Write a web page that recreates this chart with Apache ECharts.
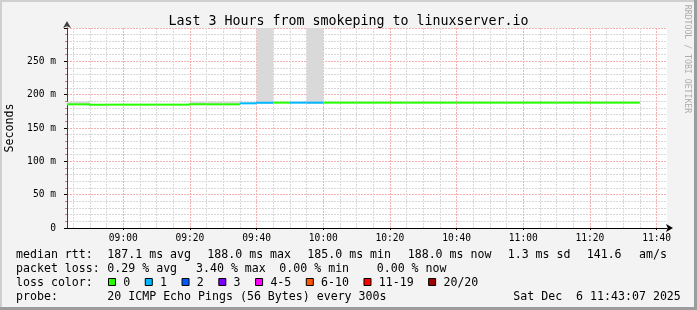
<!DOCTYPE html>
<html>
<head>
<meta charset="utf-8">
<script src="https://cdn.jsdelivr.net/npm/echarts@6/dist/echarts.min.js"></script>
<style>
html,body{margin:0;padding:0;background:#f3f3f3;}
#chart{width:697px;height:310px;}
</style>
</head>
<body>
<div id="chart"></div>
<script>
// ---------------- data ----------------
const titleText = 'Last 3 Hours from smokeping to linuxserver.io';
const endTime = '11:43:07';
const rangeMinutes = 180;
const stepMinutes = 5;

const bucketStarts = ['08:40','08:45','08:50','08:55','09:00','09:05','09:10','09:15','09:20','09:25','09:30','09:35',
  '09:40','09:45','09:50','09:55','10:00','10:05','10:10','10:15','10:20','10:25','10:30','10:35','10:40','10:45',
  '10:50','10:55','11:00','11:05','11:10','11:15','11:20','11:25','11:30'];
// median rtt in ms
const medianRtt = [185.5,185.5,185.0,185.0,185.0,185.0,185.0,185.0,185.5,185.5,185.5,187.0,
  188.0,188.0,188.0,188.0,188.0,188.0,188.0,188.0,188.0,188.0,188.0,188.0,188.0,188.0,
  188.0,188.0,188.0,188.0,188.0,188.0,188.0,188.0,188.0];
// lost pings out of 20
const lossCount = [0,0,0,0,0,0,0,0,0,0,0,1,
  1,0,1,1,0,0,0,0,0,0,0,0,0,0,
  0,0,0,0,0,0,0,0,0];
// smoke (ping spread) in ms
const smokeLow = [184.5,184.5,184.8,184.8,184.8,184.8,184.8,184.8,184.5,184.5,184.5,186.5,
  186.5,187.5,187.5,186.0,187.5,187.5,187.5,187.5,187.5,187.5,187.5,187.5,187.5,187.5,
  187.5,187.5,187.5,187.5,187.5,187.5,187.5,187.5,187.5];
const smokeHigh = [189.5,189.5,186.0,186.0,186.0,186.0,186.0,186.0,189.5,189.5,189.5,188.0,
  320,188.5,188.5,320,188.5,188.5,188.5,188.5,188.5,188.5,188.5,188.5,188.5,188.5,
  188.5,188.5,188.5,188.5,188.5,188.5,188.5,188.5,188.5];

const xTickLabels = ['09:00','09:20','09:40','10:00','10:20','10:40','11:00','11:20','11:40'];
const yMaxMs = 300;
const yIntervalMs = 50;

const lossLabels = ['0','1','2','3','4-5','6-10','11-19','20/20'];
const lossUpper = [0,1,2,3,5,10,19,20];
const lossColors = ['#26ff00','#00b8ff','#0059ff','#7e00ff','#ff00ff','#ff5500','#ff0000','#a10000'];

const rttStats = ['187.1 ms avg','188.0 ms max','185.0 ms min','188.0 ms now','1.3 ms sd','141.6','am/s'];
const lossStats = ['0.29 % avg','3.40 % max','0.00 % min','0.00 % now'];
const probeText = '20 ICMP Echo Pings (56 Bytes) every 300s';
const dateText = 'Sat Dec  6 11:43:07 2025';
const watermark = 'RRDTOOL / TOBI OETIKER';

// ---------------- layout ----------------
const MONO = "'DejaVu Sans Mono', monospace";
const rttStatX = [107.3, 207.3, 307.3, 407.7, 507.7, 586.7, 639];
const lossStatX = [107.3, 196, 279.3, 376.7];
const rowY = [254.5, 268.5, 282.5, 296.5];
const CHAR_W = 6.97;

function toMin(s){ const p = s.split(':').map(Number); return p[0]*60 + p[1] + (p[2]||0)/60; }
const xMax = toMin(endTime);
const xMin = xMax - rangeMinutes;
const majorX = xTickLabels.map(toMin);
const minorX = [];
for (let m = Math.ceil(xMin/stepMinutes)*stepMinutes; m <= xMax; m += stepMinutes) {
  if (majorX.indexOf(m) < 0) minorX.push(m);
}
function lossColor(n){ for (let i=0;i<lossUpper.length;i++){ if (n <= lossUpper[i]) return lossColors[i]; } return lossColors[lossColors.length-1]; }

const bucketMin = bucketStarts.map(toMin);
const smokeData = bucketMin.map((t,i)=>[t, smokeLow[i], smokeHigh[i]]);
const lineData = bucketMin.map((t,i)=>[t, medianRtt[i], lossCount[i]]);

// ---------------- graphics (text / legend) ----------------
const graphics = [];
// frame
graphics.push({type:'rect', shape:{x:0,y:0,width:697,height:2}, style:{fill:'#cfcfcf'}, silent:true});
graphics.push({type:'rect', shape:{x:0,y:0,width:2,height:310}, style:{fill:'#cfcfcf'}, silent:true});
graphics.push({type:'rect', shape:{x:0,y:307,width:697,height:3}, style:{fill:'#9c9c9c'}, silent:true});
graphics.push({type:'rect', shape:{x:694,y:0,width:3,height:310}, style:{fill:'#9c9c9c'}, silent:true});

function txt(s, x, y, size, color, extra){
  return Object.assign({type:'text', x:x, y:y, silent:true,
    style:{text:s, fontFamily:MONO, fontSize:size, fill:color||'#000', align:'left', verticalAlign:'middle'}}, extra||{});
}
graphics.push(txt('Seconds', 10, 128, 11.6, '#000', {rotation: Math.PI/2, style:{text:'Seconds', fontFamily:MONO, fontSize:11.6, fill:'#000', align:'center', verticalAlign:'middle'}}));
graphics.push({type:'text', x:687, y:59, rotation:-Math.PI/2, silent:true,
  style:{text:watermark, fontFamily:MONO, fontSize:8.2, fill:'#acacac', align:'center', verticalAlign:'middle'}});

graphics.push(txt('median rtt:', 16, rowY[0], 11.6));
rttStats.forEach((s,i)=>graphics.push(txt(s, rttStatX[i], rowY[0], 11.6)));
graphics.push(txt('packet loss:', 16, rowY[1], 11.6));
lossStats.forEach((s,i)=>graphics.push(txt(s, lossStatX[i], rowY[1], 11.6)));
graphics.push(txt('loss color:', 16, rowY[2], 11.6));
let lx = 108.5;
lossLabels.forEach((s,i)=>{
  graphics.push({type:'rect', silent:true, shape:{x:lx, y:rowY[2]-4, width:7, height:7},
    style:{fill:lossColors[i], stroke:'#000', lineWidth:1}});
  graphics.push(txt(s, lx+14.8, rowY[2], 11.6));
  lx = lx + 14.8 + s.length*CHAR_W + 15;
});
graphics.push(txt('probe:', 16, rowY[3], 11.6));
graphics.push(txt(probeText, 107.3, rowY[3], 11.6));
graphics.push(txt(dateText, 513.3, rowY[3], 11.6));

// ---------------- chart ----------------
const chart = echarts.init(document.getElementById('chart'), null, {renderer:'canvas'});
const gridMajor = {color:'#f7b0b0', width:1, type:[2,1]};
const gridMinor = {color:'#d8d8d8', width:1, type:[2,1]};

chart.setOption({
  animation:false,
  backgroundColor:'#f3f3f3',
  title:{text:titleText, left:'center', top:10,
    textStyle:{fontFamily:MONO, fontSize:13.3, fontWeight:'normal', color:'#000'}},
  grid:{left:67, right:30, top:28, bottom:82, show:true, backgroundColor:'#ffffff', borderWidth:0, containLabel:false},
  xAxis:[
    {type:'value', min:xMin, max:xMax, position:'bottom',
      axisLine:{show:true, onZero:false, lineStyle:{color:'#000', width:1}, symbol:['none','arrow'], symbolSize:[6,7], symbolOffset:[0,6]},
      axisTick:{show:true, length:2, customValues:majorX, lineStyle:{color:'#000'}},
      axisLabel:{customValues:majorX, margin:5, fontFamily:MONO, fontSize:9.6, color:'#000',
        formatter:function(v){ const i = majorX.indexOf(v); return i>=0 ? xTickLabels[i] : ''; }},
      splitLine:{show:true, lineStyle:gridMajor}},
    {type:'value', min:xMin, max:xMax, position:'bottom',
      axisLine:{show:false}, axisLabel:{show:false},
      axisTick:{show:false, customValues:minorX},
      splitLine:{show:true, lineStyle:gridMinor}}
  ],
  yAxis:{type:'value', min:0, max:yMaxMs, interval:yIntervalMs,
    axisLine:{show:true, lineStyle:{color:'#404040', width:1}, symbol:['none','arrow'], symbolSize:[6,7], symbolOffset:[0,7]},
    axisTick:{show:true, length:3, lineStyle:{color:'#000'}},
    minorTick:{show:true, splitNumber:5, length:2, lineStyle:{color:'#d08080'}},
    axisLabel:{margin:11, fontFamily:MONO, fontSize:9.6, color:'#000',
      formatter:function(v){ return v===0 ? '0' : (v>=yMaxMs ? '' : v+' m'); }},
    splitLine:{show:true, lineStyle:gridMajor},
    minorSplitLine:{show:true, lineStyle:gridMinor}},
  graphic:graphics,
  series:[
    {type:'custom', name:'smoke', xAxisIndex:0, yAxisIndex:0, clip:true, z:3,
      encode:{x:0, y:[1,2]},
      data:smokeData,
      renderItem:function(params, api){
        const t = api.value(0), lo = api.value(1), hi = Math.min(api.value(2), yMaxMs);
        const x0 = Math.max(t, xMin), x1 = Math.min(t+stepMinutes, xMax);
        const a = api.coord([x0, hi]), b = api.coord([x1, lo]);
        return {type:'rect', shape:{x:a[0], y:a[1], width:b[0]-a[0], height:b[1]-a[1]}, style:{fill:'#d9d9d9'}};
      }},
    {type:'custom', name:'median rtt', xAxisIndex:0, yAxisIndex:0, clip:true, z:4,
      encode:{x:0, y:1},
      data:lineData,
      renderItem:function(params, api){
        const i = params.dataIndex;
        const t = api.value(0), v = api.value(1), loss = api.value(2);
        const col = lossColor(loss);
        const x0 = Math.max(t, xMin), x1 = Math.min(t+stepMinutes, xMax);
        const pts = [];
        if (i > 0 && lossColor(lossCount[i-1]) === col) pts.push(api.coord([x0, medianRtt[i-1]]));
        pts.push(api.coord([x0, v]));
        pts.push(api.coord([x1, v]));
        return {type:'polyline', shape:{points:pts}, style:{stroke:col, lineWidth:2, fill:null}};
      }}
  ]
});
</script>
</body>
</html>
